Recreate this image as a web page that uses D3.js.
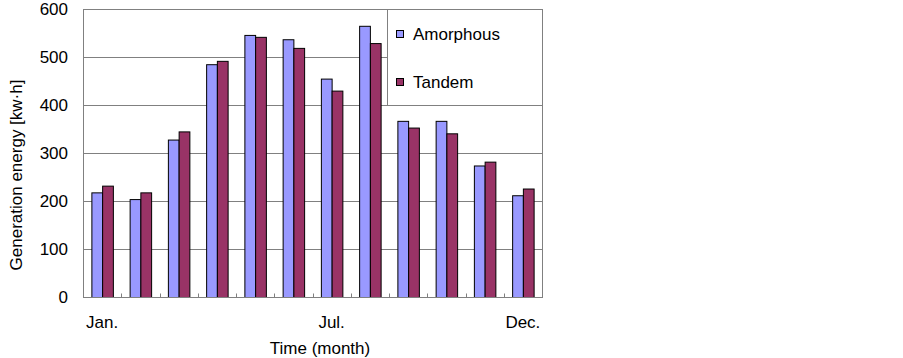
<!DOCTYPE html>
<html>
<head>
<meta charset="utf-8">
<script src="https://cdn.jsdelivr.net/npm/d3@7"></script>
<style>
  body { margin: 0; background: #fff; }
  svg { font-family: "Liberation Sans", Arial, sans-serif; }
  .grid line { stroke: #808080; }
  .bar { stroke: #000; stroke-width: 1; }
</style>
</head>
<body>
<div class="container"></div>
<script>
var months = ['Jan.', 'Feb.', 'Mar.', 'Apr.', 'May', 'Jun.', 'Jul.', 'Aug.', 'Sep.', 'Oct.', 'Nov.', 'Dec.'];
var shownMonths = ['Jan.', 'Jul.', 'Dec.'];
var seriesNames = ['Amorphous', 'Tandem'];
var amorphous = [218, 204, 328, 485, 546, 537, 455, 565, 367, 367, 274, 212];
var tandem = [232, 218, 345, 492, 542, 519, 430, 529, 353, 341, 282, 226];
var yTicks = [0, 100, 200, 300, 400, 500, 600];
var colors = {Amorphous: '#9999ff', Tandem: '#993366'};

var translate = (x, y) => `translate(${ x },${ y })`;

var WIDTH = 903, HEIGHT = 358;
var plotLeft = 83, plotRight = 542, plotTop = 9, plotBottom = 297;

var svg = d3.select('.container').append('svg')
    .attr('width', WIDTH)
    .attr('height', HEIGHT);

var x0 = d3.scaleBand().domain(months).range([plotLeft, plotRight]).padding(0);
var x1 = d3.scaleBand().domain(seriesNames).range([0, x0.bandwidth()]).paddingInner(0).paddingOuter(0.78);
var y = d3.scaleLinear().domain([0, 600]).range([plotBottom, plotTop]);

// gridlines
svg.append('g')
    .classed('grid', true)
    .selectAll('line')
    .data(yTicks.filter(d => d > 0))
    .enter().append('line')
    .attr('x1', plotLeft)
    .attr('x2', plotRight)
    .attr('y1', d => Math.round(y(d)) + 0.5)
    .attr('y2', d => Math.round(y(d)) + 0.5);

// frame
svg.append('rect')
    .attr('x', plotLeft + 0.5)
    .attr('y', plotTop + 0.5)
    .attr('width', plotRight - plotLeft)
    .attr('height', plotBottom - plotTop)
    .attr('fill', 'none')
    .attr('stroke', '#808080');

// bars
var rows = months.map((m, i) => ({month: m, values: [
    {key: 'Amorphous', value: amorphous[i]},
    {key: 'Tandem', value: tandem[i]}
]}));

svg.append('g')
    .selectAll('g')
    .data(rows)
    .enter().append('g')
    .attr('transform', d => translate(x0(d.month), 0))
    .selectAll('rect')
    .data(d => d.values)
    .enter().append('rect')
    .classed('bar', true)
    .attr('x', d => x1(d.key) + 0.5)
    .attr('y', d => y(d.value) + 0.5)
    .attr('width', x1.bandwidth())
    .attr('height', d => y(0) - y(d.value))
    .attr('fill', d => colors[d.key]);

// x axis line and inner ticks
var xAxis = svg.append('g').attr('transform', translate(0, plotBottom + 0.5));
xAxis.append('line')
    .attr('x1', plotLeft).attr('x2', plotRight + 1)
    .attr('stroke', '#808080');
xAxis.selectAll('.tick')
    .data(months.slice(1))
    .enter().append('line')
    .attr('x1', d => Math.round(x0(d)) + 0.5)
    .attr('x2', d => Math.round(x0(d)) + 0.5)
    .attr('y1', 0).attr('y2', -4)
    .attr('stroke', '#808080');
xAxis.selectAll('text')
    .data(shownMonths)
    .enter().append('text')
    .attr('x', d => x0(d) + x0.bandwidth() / 2)
    .attr('y', 30)
    .attr('text-anchor', 'middle')
    .attr('font-size', 17)
    .text(d => d);

// y axis labels
svg.append('g')
    .selectAll('text')
    .data(yTicks)
    .enter().append('text')
    .attr('x', 68)
    .attr('y', d => y(d) + 6)
    .attr('text-anchor', 'end')
    .attr('font-size', 17)
    .text(d => d);

// axis titles
svg.append('text')
    .attr('transform', translate(22, 175) + ' rotate(-90)')
    .attr('text-anchor', 'middle')
    .attr('font-size', 17)
    .text('Generation energy [kw·h]');

svg.append('text')
    .attr('x', 320)
    .attr('y', 354)
    .attr('text-anchor', 'middle')
    .attr('font-size', 17)
    .text('Time (month)');

// legend
var legend = svg.append('g');
legend.append('rect')
    .attr('x', 387.5)
    .attr('y', plotTop + 0.5)
    .attr('width', plotRight - 387)
    .attr('height', 96)
    .attr('fill', '#fff')
    .attr('stroke', '#808080');

var items = legend.selectAll('g.item')
    .data(seriesNames)
    .enter().append('g')
    .classed('item', true)
    .attr('transform', (d, i) => translate(396, 34 + i * 48));
items.append('rect')
    .attr('x', 0.5).attr('y', -3.5)
    .attr('width', 7).attr('height', 7)
    .attr('fill', d => colors[d])
    .attr('stroke', '#000');
items.append('text')
    .attr('x', 17)
    .attr('y', 6)
    .attr('font-size', 17)
    .text(d => d);
</script>
</body>
</html>
